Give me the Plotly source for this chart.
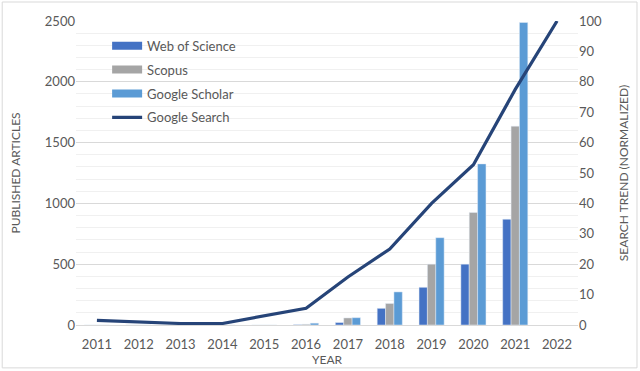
import plotly.graph_objects as go

years = ["2011", "2012", "2013", "2014", "2015", "2016", "2017", "2018", "2019", "2020", "2021", "2022"]
web_of_science = [0, 0, 0, 0, 0, 3, 20, 137, 310, 500, 870, None]
scopus = [0, 0, 0, 0, 0, 6, 58, 177, 500, 925, 1635, None]
google_scholar = [0, 0, 0, 0, 0, 15, 60, 272, 718, 1325, 2488, None]
google_search = [1.5, 1.0, 0.5, 0.5, 3.0, 5.5, 15.8, 25.0, 40.0, 52.7, 77.5, 100.0]

series_names = ["Web of Science", "Scopus", "Google Scholar"]
series_colors = ["#4472C4", "#A5A5A5", "#5B9BD5"]
series_values = [web_of_science, scopus, google_scholar]

txt = "#595959"
font = dict(family="Lato, Open Sans, sans-serif", size=13, color=txt)

fig = go.Figure()
for name, color, vals in zip(series_names, series_colors, series_values):
    fig.add_trace(go.Bar(x=years, y=vals, name=name, marker_color=color,
                         showlegend=False, hoverinfo="x+y+name"))
fig.add_trace(go.Scatter(x=years, y=google_search, name="Google Search", mode="lines",
                         line=dict(color="#264478", width=3.2), yaxis="y2",
                         showlegend=False))
# legend entries drawn Excel-style (wide colour keys)
for i, (name, color) in enumerate(zip(series_names, series_colors)):
    fig.add_trace(go.Scatter(x=[years[0]], y=[None], name=name, mode="lines",
                             line=dict(color=color, width=8), legendgroup=str(i),
                             hoverinfo="skip"))
fig.add_trace(go.Scatter(x=[years[0]], y=[None], name="Google Search", mode="lines",
                         line=dict(color="#264478", width=3.2), legendgroup="3",
                         hoverinfo="skip"))

fig.update_layout(
    width=640, height=371,
    margin=dict(l=76, r=62, t=21, b=46, autoexpand=False),
    paper_bgcolor="white", plot_bgcolor="white",
    font=font,
    barmode="group", bargap=0.4, bargroupgap=0,
    showlegend=True,
    legend=dict(x=0.062, y=0.968, xanchor="left", yanchor="top",
                bgcolor="rgba(0,0,0,0)", font=dict(size=13, color=txt),
                tracegroupgap=4, itemwidth=30),
    xaxis=dict(type="category", showgrid=False, showline=True, linecolor="#D9D9D9",
               ticks="", tickfont=dict(size=13, color=txt), ticklabelstandoff=7,
               title=dict(text="YEAR", font=dict(size=12, color=txt), standoff=0)),
    yaxis=dict(range=[0, 2500], dtick=500, showgrid=True, gridcolor="#D9D9D9",
               zeroline=False, ticks="", tickfont=dict(size=13, color=txt),
               minor=dict(dtick=100, showgrid=True, gridcolor="#F0F0F0"),
               title=dict(text="PUBLISHED ARTICLES", font=dict(size=12, color=txt), standoff=21)),
    yaxis2=dict(range=[0, 100], dtick=10, overlaying="y", side="right", showgrid=False,
                zeroline=False, ticks="", tickfont=dict(size=13, color=txt),
                title=dict(text="SEARCH TREND (NORMALIZED)", font=dict(size=12, color=txt), standoff=18)),
    shapes=[dict(type="rect", xref="paper", yref="paper", x0=-0.147, x1=1.1175, y0=-0.141, y1=1.0625,
                 line=dict(color="#D9D9D9", width=1))],
)

fig.write_html("out.html", config={"displayModeBar": False},
               post_script="document.body.style.margin='0px';")
